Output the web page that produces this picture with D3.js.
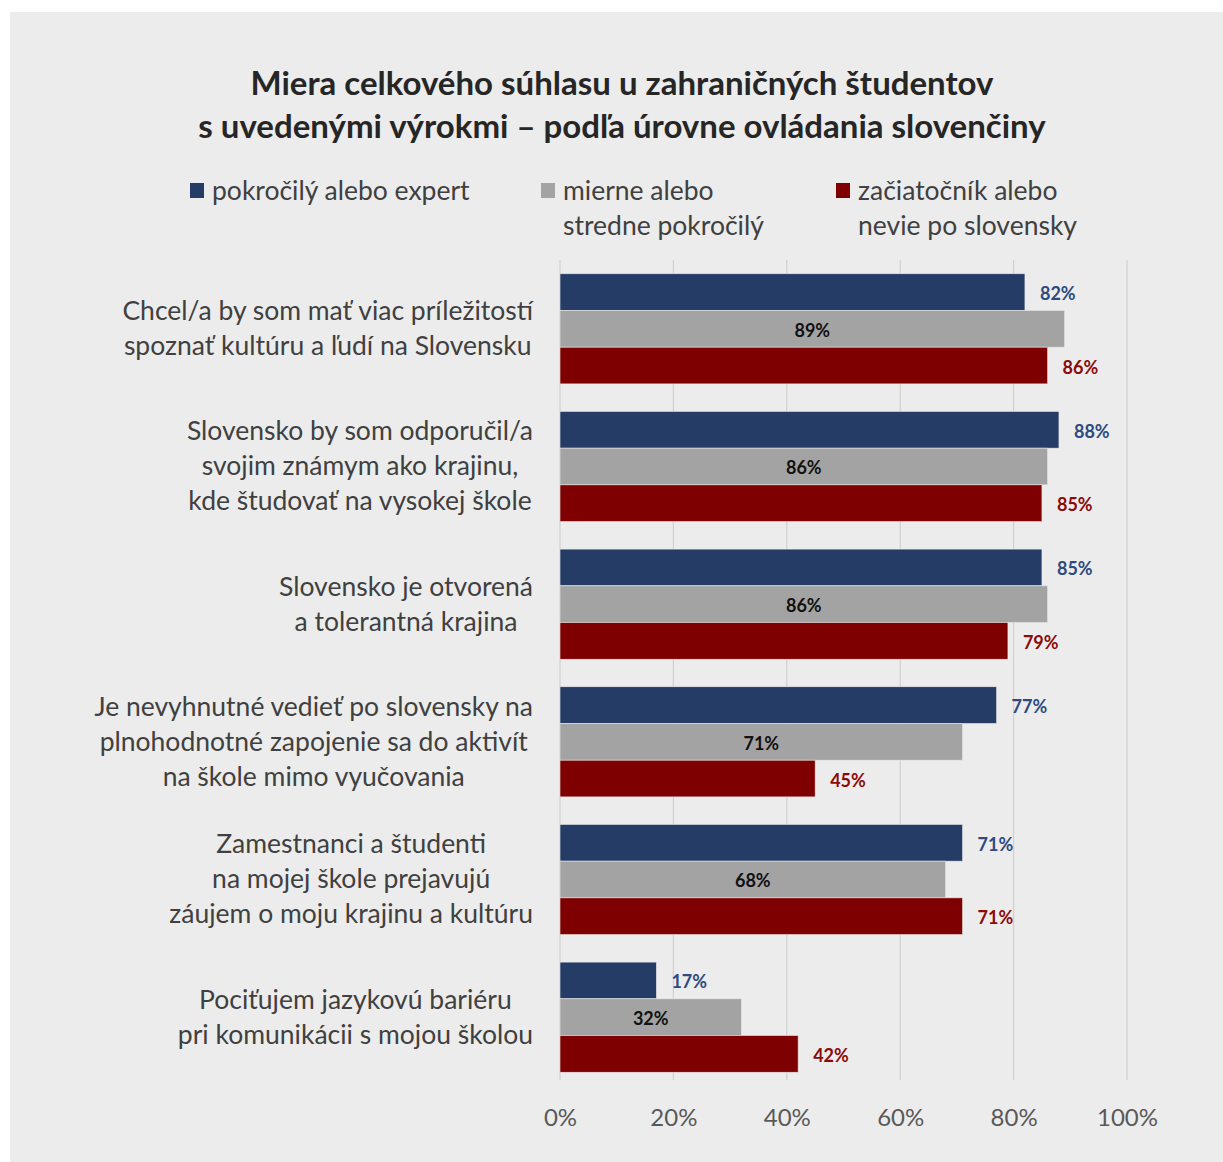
<!DOCTYPE html>
<html><head><meta charset="utf-8">
<script src="https://cdn.jsdelivr.net/npm/d3@7"></script>
<style>body{margin:0;background:#fff}svg{display:block}text{font-family:Lato,"Open Sans",sans-serif}</style>
</head><body>
<script>
const categories = [
  ["Chcel/a by som mať viac príležitostí","spoznať kultúru a ľudí na Slovensku"],
  ["Slovensko by som odporučil/a","svojim známym ako krajinu,","kde študovať na vysokej škole"],
  ["Slovensko je otvorená","a tolerantná krajina"],
  ["Je nevyhnutné vedieť po slovensky na","plnohodnotné zapojenie sa do aktivít","na škole mimo vyučovania"],
  ["Zamestnanci a študenti","na mojej škole prejavujú","záujem o moju krajinu a kultúru"],
  ["Pociťujem jazykovú bariéru","pri komunikácii s mojou školou"]
];
const seriesNames = [["pokročilý alebo expert"],["mierne alebo","stredne pokročilý"],["začiatočník alebo","nevie po slovensky"]];
const advanced = [82,88,85,77,71,17];
const intermediate = [89,86,86,71,68,32];
const beginner = [86,85,79,45,71,42];
const tickValues = [0,20,40,60,80,100];
const titleLines = ["Miera celkového súhlasu u zahraničných študentov","s uvedenými výrokmi – podľa úrovne ovládania slovenčiny"];

const series = [advanced, intermediate, beginner];
const barColors = ["#253c66","#a3a3a3","#7f0000"];
const labelColors = ["#2e4a80","#111111","#8b0a0a"];

const W=1223,H=1162;
const svg=d3.select("body").append("svg").attr("width",W).attr("height",H);
svg.append("rect").attr("x",10).attr("y",12).attr("width",W-10).attr("height",H-12).attr("fill","#ececec");

// title
svg.append("g").selectAll("text").data(titleLines).join("text")
  .attr("x",622).attr("y",(d,i)=>95+i*43).attr("text-anchor","middle")
  .attr("font-size",33).attr("font-weight","bold").attr("fill","#262626").text(d=>d);

// legend
const legX=[190,541,836];
const lg=svg.append("g").selectAll("g").data(seriesNames).join("g");
lg.append("rect").attr("x",(d,i)=>legX[i]).attr("y",183).attr("width",14).attr("height",15).attr("fill",(d,i)=>barColors[i]);
lg.each(function(d,i){
  d3.select(this).selectAll("text").data(d).join("text")
    .attr("x",legX[i]+22).attr("y",(t,j)=>200+j*35)
    .attr("font-size",26.5).attr("fill","#404040").text(t=>t);
});

const px0=560,px1=1127,pTop=260,pBottom=1086;
const x=d3.scaleLinear().domain([0,100]).range([px0,px1]);
const y=d3.scaleBand().domain(d3.range(categories.length)).range([pTop,pBottom]).paddingInner(0.2).paddingOuter(0.1);
const ySub=d3.scaleBand().domain([0,1,2]).range([0,y.bandwidth()]);

// grid
svg.append("g").selectAll("line").data(tickValues).join("line")
  .attr("x1",d=>x(d)).attr("x2",d=>x(d)).attr("y1",pTop).attr("y2",1080)
  .attr("stroke","#d0d0d0").attr("stroke-width",1.2);

// axis
const ax=svg.append("g").attr("transform",`translate(0,1080)`)
  .call(d3.axisBottom(x).tickValues(tickValues).tickFormat(d=>d+"%").tickSize(0).tickPadding(29));
ax.select(".domain").remove();
ax.selectAll("text").attr("font-size",24).attr("fill","#595959").style("font-family","Lato");

// bars
const groups=svg.append("g").selectAll("g").data(categories).join("g")
  .attr("transform",(d,i)=>`translate(0,${y(i)})`);
groups.each(function(d,i){
  const g=d3.select(this);
  const vals=series.map(s=>s[i]);
  g.selectAll("rect").data(vals).join("rect")
    .attr("x",px0).attr("y",(v,j)=>ySub(j)).attr("width",v=>x(v)-px0).attr("height",ySub.bandwidth())
    .attr("fill",(v,j)=>barColors[j]).attr("stroke","#e8e8e8").attr("stroke-width",0.6);
  g.selectAll("text.v").data(vals).join("text").attr("class","v")
    .attr("x",(v,j)=>j===1?(px0+x(v))/2:x(v)+15)
    .attr("y",(v,j)=>ySub(j)+ySub.bandwidth()/2+8)
    .attr("text-anchor",(v,j)=>j===1?"middle":"start")
    .attr("font-size",18).attr("font-weight","bold").attr("fill",(v,j)=>labelColors[j]).text(v=>v+"%");
  const lh=35, n=d.length, cy=y.bandwidth()/2;
  const lbl=g.append("g");
  lbl.selectAll("text").data(d).join("text")
    .attr("x",0).attr("y",(t,j)=>cy+(j-(n-1)/2)*lh+9).attr("text-anchor","middle")
    .attr("font-size",26.5).attr("fill","#404040").text(t=>t);
  let mw=0; lbl.selectAll("text").each(function(){mw=Math.max(mw,this.getComputedTextLength());});
  lbl.attr("transform",`translate(${533-mw/2},0)`);
});
</script>
</body></html>
